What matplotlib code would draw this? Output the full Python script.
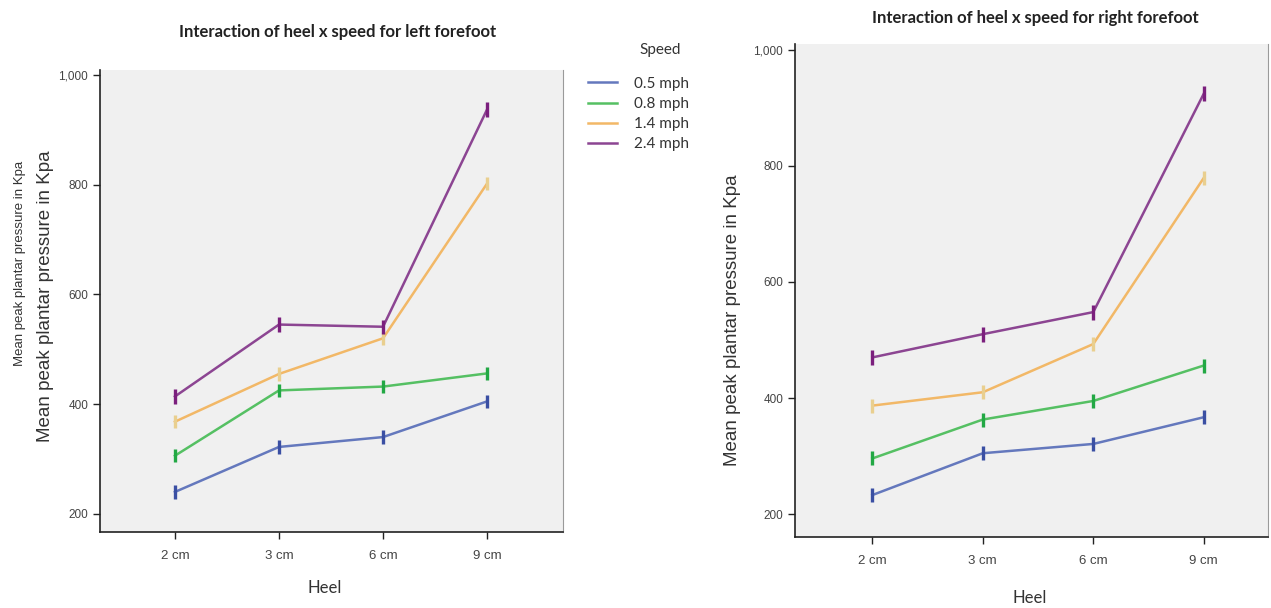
import matplotlib
matplotlib.use("Agg")
import matplotlib.pyplot as plt

heel = ["2 cm", "3 cm", "6 cm", "9 cm"]
speeds = ["0.5 mph", "0.8 mph", "1.4 mph", "2.4 mph"]

# mean peak plantar pressure (Kpa)
left_means = [
  [240, 322, 340, 405],   # 0.5 mph
  [306, 425, 432, 456],   # 0.8 mph
  [368, 455, 520, 802],   # 1.4 mph
  [414, 545, 541, 937],   # 2.4 mph
]
right_means = [
  [233, 305, 321, 367],
  [296, 363, 395, 456],
  [387, 410, 493, 779],
  [470, 510, 548, 924],
]
left_err = [12, 12, 12, 13]
right_err = [12, 12, 12, 13]

line_colors = ["#6478bd", "#55c063", "#f2b867", "#8c4592"]
bar_colors = ["#3a4fa3", "#22a844", "#e9cf8f", "#7b1f7d"]

fig = plt.figure(figsize=(12.71, 6.08), dpi=100)
fig.patch.set_facecolor("white")

axL = fig.add_axes([0.0787, 0.125, 0.3643, 0.760])
axR = fig.add_axes([0.6255, 0.117, 0.372, 0.811])


def draw(ax, means, errs, ylim, xlim):
  x = range(len(heel))
  for vals, e, lc, bc, lab in zip(means, errs, line_colors, bar_colors, speeds):
    ax.plot(x, vals, color=lc, lw=1.8, label=lab, zorder=3)
    ax.errorbar(x, vals, yerr=e, fmt="none", ecolor=bc, elinewidth=2.4,
                capsize=0, zorder=4)
  ax.set_facecolor("#f0f0f0")
  ax.set_xlim(*xlim)
  ax.set_ylim(*ylim)
  ax.set_xticks(list(x))
  ax.set_xticklabels(heel)
  ax.set_yticks([200, 400, 600, 800, 1000])
  ax.set_yticklabels(["200", "400", "600", "800", "1,000"])
  ax.spines["top"].set_visible(False)
  ax.spines["right"].set_color("#9a9a9a")
  ax.spines["left"].set_color("#222222")
  ax.spines["bottom"].set_color("#222222")
  ax.spines["left"].set_linewidth(1.2)
  ax.spines["bottom"].set_linewidth(1.2)
  ax.tick_params(axis="both", direction="out", length=5, width=1,
                 color="#222222", labelcolor="#444444")
  ax.tick_params(axis="y", labelsize=8.5)
  ax.tick_params(axis="x", labelsize=9.5, pad=8)
  for t in ax.get_xticklabels() + ax.get_yticklabels():
    t.set_family("Liberation Sans")


draw(axL, left_means, left_err, (167, 1009), (-0.72, 3.73))
draw(axR, right_means, right_err, (161, 1010), (-0.70, 3.58))

title_font = dict(family="Lato", fontweight="bold", fontsize=12, color="#222222")
fig.text(338 / 1271, 1 - 32 / 608, "Interaction of heel x speed for left forefoot",
         ha="center", va="center", **title_font)
fig.text(1035 / 1271, 1 - 18 / 608, "Interaction of heel x speed for right forefoot",
         ha="center", va="center", **title_font)

# y labels
fig.text(20 / 1271, 1 - 263 / 608, "Mean peak plantar pressure in Kpa", rotation=90,
         ha="center", va="center", fontsize=9.5, family="Liberation Sans", color="#333333")
fig.text(46 / 1271, 1 - 296 / 608, "Mean peak plantar pressure in Kpa", rotation=90,
         ha="center", va="center", fontsize=13.5, family="Liberation Sans", color="#333333")
fig.text(733 / 1271, 1 - 320 / 608, "Mean peak plantar pressure in Kpa", rotation=90,
         ha="center", va="center", fontsize=13.5, family="Liberation Sans", color="#333333")

# x labels
fig.text(325 / 1271, 1 - 588 / 608, "Heel", ha="center", va="center",
         fontsize=12, family="Lato", color="#333333")
fig.text(1030 / 1271, 1 - 598 / 608, "Heel", ha="center", va="center",
         fontsize=12, family="Lato", color="#333333")

# legend
handles, labels = axL.get_legend_handles_labels()
leg = fig.legend(handles, labels, loc="upper left", bbox_to_anchor=(574 / 1271, 1 - 63 / 608),
                 frameon=False, handlelength=1.9, handletextpad=1.1, labelspacing=0.4,
                 prop=dict(family="Lato", size=11))
for t in leg.get_texts():
  t.set_color("#333333")
fig.text(660 / 1271, 1 - 50 / 608, "Speed", ha="center", va="center",
         fontsize=11, family="Lato", color="#333333")

fig.savefig("out.png", dpi=100)
